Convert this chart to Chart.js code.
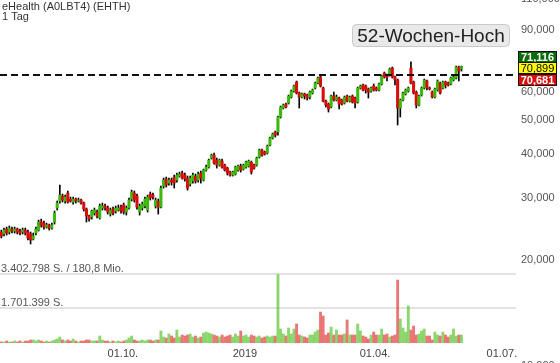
<!DOCTYPE html>
<html>
<head>
<meta charset="utf-8">
<script src="https://cdn.jsdelivr.net/npm/chart.js@4.4.1/dist/chart.umd.min.js"></script>
<style>
html, body { margin: 0; padding: 0; background: #fff; }
#wrap { width: 560px; height: 363px; }
</style>
</head>
<body>
<div id="wrap"><canvas id="chart" width="560" height="363"></canvas></div>
<script>
// daily candles, eHealth (EHTH)
const opens = [
24.02,23.71,24.49,24.02,24.49,24.17,24.49,24.17,24.02,24.33,
24.02,23.71,22.95,23.86,24.33,25.64,25.47,24.81,25.14,24.65,
25.64,28.10,29.42,30.39,29.42,30.99,29.80,29.22,29.80,29.42,
29.61,29.03,27.91,26.66,26.49,27.19,27.37,26.32,28.10,28.47,
28.10,27.01,27.91,27.55,27.73,28.28,28.65,27.37,28.10,29.80,
30.99,30.39,27.37,28.10,28.47,27.73,30.79,30.59,28.47,29.42,
28.28,32.44,33.96,33.08,33.74,34.40,33.74,34.63,35.32,34.86,
34.18,32.87,33.52,34.63,33.74,35.32,33.74,36.02,36.73,38.96,
39.73,38.45,37.21,38.20,37.21,36.49,35.55,34.86,35.09,36.02,
36.97,36.25,36.73,36.97,37.95,37.21,37.21,39.21,41.07,40.53,
40.26,42.43,44.42,46.19,46.19,50.96,54.05,55.48,55.84,58.07,
60.40,64.06,59.61,58.07,59.22,58.84,58.07,59.61,61.61,63.65,
66.19,61.61,56.58,55.48,54.40,58.45,56.95,57.70,56.95,55.84,
58.45,56.58,58.45,57.70,56.21,61.61,62.82,62.41,61.21,60.40,
62.41,61.61,60.81,63.23,67.94,67.06,67.06,70.20,66.19,64.91,
54.05,56.95,59.22,60.40,70.20,64.06,60.00,55.12,58.84,61.61,
64.48,61.61,60.00,58.07,60.81,63.65,61.61,64.06,63.65,63.23,
64.91,65.76,70.66,69.80
];
const closes = [
23.40,24.33,23.86,24.65,24.17,24.49,24.02,23.86,24.33,23.86,
23.10,22.80,23.40,24.49,25.64,25.14,24.81,25.14,24.65,25.14,
27.19,29.03,30.59,29.61,30.20,29.22,29.42,29.80,29.42,29.61,
29.03,27.91,26.66,26.14,27.55,27.73,26.66,28.47,28.47,28.10,
27.37,27.73,27.19,28.10,28.10,27.55,27.37,28.10,29.61,31.20,
29.61,28.28,28.47,28.84,29.80,30.20,30.00,30.20,29.61,28.28,
32.02,33.74,32.65,33.74,33.30,33.08,34.86,35.09,34.18,33.96,
32.02,34.18,34.86,33.52,35.09,34.18,36.02,36.73,38.45,39.73,
37.70,37.21,38.45,36.73,36.02,35.32,34.86,35.55,36.73,36.97,
36.02,37.21,37.95,38.20,35.55,36.49,38.96,41.07,39.74,40.00,
42.15,44.42,45.59,45.29,50.96,54.40,55.12,54.40,58.45,60.40,
62.41,59.61,58.07,59.22,58.45,57.70,60.00,60.81,63.65,65.76,
62.41,56.58,55.12,53.70,58.45,56.95,58.07,55.48,55.48,58.07,
56.58,58.07,56.21,55.84,61.61,62.41,60.81,60.81,60.00,61.61,
60.81,60.81,63.23,66.62,66.19,66.19,69.74,66.19,64.91,54.05,
56.95,59.61,60.81,61.61,63.65,59.61,55.12,58.45,61.61,64.91,
61.61,61.21,58.07,61.21,64.48,59.61,64.06,62.82,62.82,65.76,
66.19,70.66,68.84,70.90
];
const highs = [
24.33,24.65,24.81,24.98,24.81,24.81,24.65,24.49,24.65,24.65,
24.33,24.02,23.86,24.81,25.97,26.14,25.80,25.47,25.30,25.47,
27.55,29.42,32.65,30.79,30.59,31.40,30.20,30.20,30.00,30.00,
29.80,29.22,28.10,26.84,27.73,28.10,27.73,28.84,29.03,28.84,
28.47,28.10,28.28,28.47,28.65,28.65,29.03,28.47,30.00,31.60,
31.40,30.79,28.84,29.22,30.20,30.59,31.20,30.99,30.00,29.80,
32.44,34.18,34.40,34.18,34.18,34.86,35.32,35.55,35.78,35.32,
34.63,34.63,35.32,35.09,35.55,35.78,36.25,37.21,38.70,40.00,
40.26,38.96,38.70,38.70,37.45,36.73,35.78,35.78,36.97,37.21,
37.45,37.45,38.20,38.45,38.20,37.45,39.21,41.34,41.34,40.80,
42.43,44.71,45.89,46.50,51.30,54.76,55.48,55.84,58.84,60.81,
62.82,64.48,60.00,59.61,59.61,59.22,60.40,61.21,64.06,66.19,
67.06,62.01,56.95,55.84,58.84,60.00,58.84,58.07,57.32,58.45,
58.84,58.45,58.84,58.07,62.01,62.82,63.23,62.82,61.61,62.01,
63.23,62.01,63.65,67.06,68.39,67.50,70.20,70.66,66.62,65.33,
57.32,60.00,61.21,62.01,73.06,64.48,60.40,58.84,62.01,65.33,
64.91,62.01,60.40,61.61,64.91,64.06,64.48,64.48,64.06,66.19,
66.62,71.12,71.10,71.116
];
const lows = [
23.10,23.40,23.55,23.71,23.86,23.86,23.71,23.55,23.71,23.55,
22.80,22.21,22.80,23.55,24.17,24.81,24.49,24.65,24.33,24.49,
25.30,27.73,29.03,29.22,29.03,29.03,29.22,28.84,29.03,29.22,
28.84,27.55,25.64,25.80,26.14,26.84,26.32,26.14,27.73,27.73,
27.01,26.66,26.84,27.19,27.55,27.19,27.01,26.84,27.91,29.42,
29.22,27.91,26.84,27.73,28.10,27.37,29.61,29.80,28.10,27.01,
28.10,32.02,32.23,32.65,32.65,32.02,33.30,34.40,33.96,33.52,
31.60,32.44,33.08,33.08,33.30,33.08,33.52,35.78,36.49,38.70,
37.45,36.49,36.97,36.49,35.78,34.86,34.63,34.63,34.86,35.78,
35.55,36.02,36.49,36.73,35.09,36.25,36.97,38.96,39.47,39.74,
40.00,42.15,44.13,44.71,45.29,50.63,53.70,54.05,55.48,57.70,
60.00,59.22,54.05,57.70,57.32,56.95,57.32,59.22,61.21,63.23,
62.01,56.21,54.40,52.65,54.05,56.58,56.58,53.70,55.12,55.48,
56.21,56.21,55.84,54.05,55.84,61.21,60.40,59.61,57.70,60.00,
60.40,60.40,60.40,62.82,65.76,64.48,66.62,65.76,62.82,48.38,
50.96,56.58,58.84,60.00,63.23,59.22,54.05,54.76,58.45,61.21,
60.81,60.81,57.70,57.70,60.40,59.22,61.21,61.61,62.41,62.82,
64.48,65.33,64.50,68.84
];
// volume in 1000 shares
const volumesK = [
49,49,99,49,49,99,49,99,49,99,99,
148,148,99,148,99,49,99,49,99,
148,197,296,148,99,148,99,197,99,49,
99,99,148,148,99,99,99,345,148,99,
99,49,99,49,99,49,99,148,247,345,
148,99,99,148,99,148,148,99,148,148,
592,296,247,444,345,247,641,296,394,345,
394,444,296,345,247,296,493,542,493,444,
394,345,296,394,296,345,394,296,444,345,
592,345,394,296,394,345,296,345,247,296,
345,296,345,345,
3380,690,444,345,740,444,690,937,394,345,
296,247,394,394,542,641,1528,1331,394,493,
789,394,641,394,394,444,1134,394,394,394,
937,592,345,296,197,394,542,394,394,690,
394,444,296,345,394,3106,1183,740,542,1824,
641,838,394,444,592,690,345,345,148,542,394,345,542,394,296,394,690,345,394,394
];

const xTickPos = [45.7, 91.6, 140.5, 188.2];
const xTickLabels = ['01.10.', '2019', '01.04.', '01.07.'];
const yTicks = [10, 20, 30, 40, 50, 60, 90, 110];
const volLines = [1701.399, 3402.798];
const volLabels = ['1.701.399 S.', '3.402.798 S. / 180,8 Mio.'];
const hi52 = 67.06;
const quotes = [71.116, 70.899, 70.681];
const title = ['eHealth (A0LBT4) (EHTH)', '1 Tag'];

const xMin = -0.5, xMax = 193.5;
const FONT = "Arial, 'Liberation Sans', sans-serif";
const fmt = v => v.toFixed(3).replace('.', ',');

const idx = opens.map((o, i) => i);
const up = i => closes[i] >= opens[i];

function noPad(axis) {
  axis.paddingLeft = 0;
  axis.paddingRight = 0;
  axis.paddingTop = 0;
  axis.paddingBottom = 0;
}

const deko = {
  id: 'deko',
  beforeDatasetsDraw(chart) {
    const ctx = chart.ctx, a = chart.chartArea, y2 = chart.scales.y2;
    ctx.save();
    ctx.strokeStyle = '#e2e2e2';
    ctx.lineWidth = 2;
    ctx.font = '11px ' + FONT;
    ctx.fillStyle = '#555';
    ctx.textBaseline = 'middle';
    volLines.forEach((v, k) => {
      const py = Math.round(y2.getPixelForValue(v));
      ctx.beginPath();
      ctx.moveTo(a.left, py);
      ctx.lineTo(a.right, py);
      ctx.stroke();
      ctx.fillText(volLabels[k], 1, py - 5.5);
    });
    ctx.restore();
  },
  afterDraw(chart) {
    const ctx = chart.ctx, y = chart.scales.y;
    ctx.save();
    // title
    ctx.font = '11px ' + FONT;
    ctx.fillStyle = '#333';
    ctx.textBaseline = 'top';
    ctx.fillText(title[0], 2, 1);
    ctx.fillText(title[1], 2, 11);

    // 52-Wochen-Hoch tag
    ctx.fillStyle = '#e9e9e9';
    ctx.strokeStyle = '#c9c9c9';
    ctx.lineWidth = 1;
    ctx.beginPath();
    ctx.roundRect(352.5, 24.5, 157, 22, 4);
    ctx.fill();
    ctx.stroke();
    ctx.font = '19px ' + FONT;
    ctx.fillStyle = '#222';
    ctx.textAlign = 'center';
    ctx.textBaseline = 'middle';
    ctx.fillText('52-Wochen-Hoch', 431, 36.5);

    // quote boxes
    const mid = y.getPixelForValue(quotes[1]) + 1;
    const bg = ['#0a6b0a', '#ffff00', '#dd0a0a'];
    const fg = ['#fff', '#000', '#fff'];
    const bold = ['bold ', '', 'bold '];
    quotes.forEach((q, k) => {
      const top = Math.round(mid - 5.5 + (k - 1) * 11.5) + 0.5;
      ctx.fillStyle = bg[k];
      ctx.fillRect(518.5, top, 38, 11);
      ctx.strokeStyle = '#111';
      ctx.strokeRect(518.5, top, 38, 11);
      ctx.fillStyle = fg[k];
      ctx.font = bold[k] + '11px ' + FONT;
      ctx.fillText(fmt(q), 537.5, top + 6);
    });
    ctx.restore();
  }
};

new Chart(document.getElementById('chart'), {
  type: 'bar',
  data: {
    datasets: [
      {
        type: 'line',
        data: [{x: xMin, y: hi52}, {x: xMax, y: hi52}],
        borderColor: '#111',
        borderWidth: 2,
        borderDash: [7, 4],
        pointRadius: 0,
        yAxisID: 'y',
        order: 0
      },
      {
        data: idx.map(i => ({x: i, y: [opens[i], closes[i]]})),
        backgroundColor: idx.map(i => up(i) ? '#3cb80c' : '#dc0c0c'),
        barThickness: 2.4,
        minBarLength: 1,
        grouped: false,
        yAxisID: 'y',
        order: 1
      },
      {
        data: idx.map(i => ({x: i, y: [lows[i], highs[i]]})),
        backgroundColor: '#000',
        barThickness: 1,
        grouped: false,
        yAxisID: 'y',
        order: 2
      },
      {
        data: idx.map(i => ({x: i, y: volumesK[i]})),
        backgroundColor: idx.map(i => up(i) ? 'rgba(100,200,60,0.75)' : 'rgba(225,60,60,0.7)'),
        barThickness: 2.2,
        grouped: false,
        yAxisID: 'y2',
        order: 3
      }
    ]
  },
  options: {
    responsive: false,
    devicePixelRatio: 1,
    animation: false,
    layout: { padding: 0 },
    plugins: { legend: { display: false }, tooltip: { enabled: false } },
    scales: {
      x: {
        type: 'linear',
        offset: false,
        min: xMin,
        max: xMax,
        bounds: 'data',
        grid: { display: false, offset: false, drawTicks: false },
        border: { display: false },
        afterBuildTicks: axis => { axis.ticks = xTickPos.map(v => ({value: v})); },
        afterFit: axis => { axis.height = 20; noPad(axis); },
        ticks: {
          autoSkip: false,
          maxRotation: 0,
          padding: 4,
          color: '#444',
          font: { family: FONT, size: 11 },
          callback: (v, i) => xTickLabels[i]
        }
      },
      y: {
        type: 'logarithmic',
        position: 'right',
        min: 11.622,
        max: 109.56,
        bounds: 'data',
        grid: { display: false, drawTicks: false },
        border: { display: false },
        afterBuildTicks: axis => { axis.ticks = yTicks.map(v => ({value: v})); },
        afterFit: axis => { axis.width = 44; noPad(axis); },
        ticks: {
          autoSkip: false,
          padding: 5,
          color: '#555',
          font: { family: FONT, size: 11 },
          callback: v => fmt(v)
        }
      },
      y2: {
        type: 'linear',
        display: false,
        min: 0,
        max: 16915
      }
    }
  },
  plugins: [deko]
});
</script>
</body>
</html>
